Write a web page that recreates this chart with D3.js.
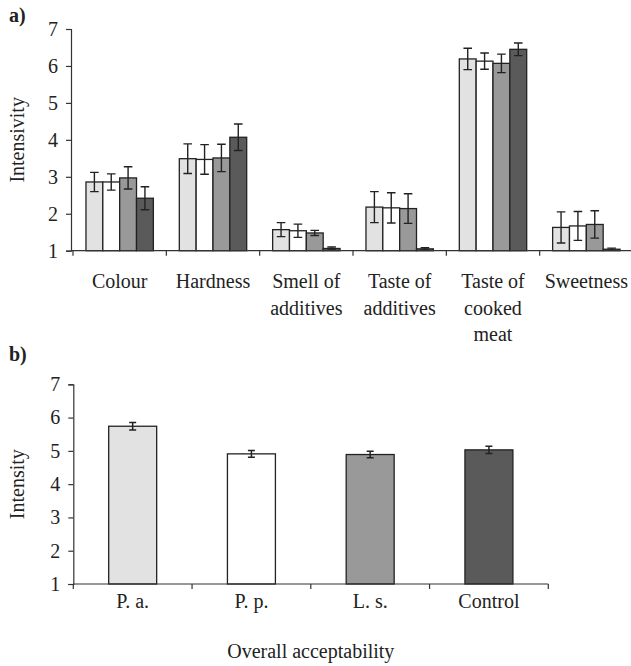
<!DOCTYPE html>
<html>
<head>
<meta charset="utf-8">
<script src="https://cdn.jsdelivr.net/npm/d3@7"></script>
<style>
  html, body { margin: 0; padding: 0; background: #fff; }
  svg { display: block; }
  text { font-family: "Liberation Serif", "Times New Roman", "DejaVu Serif", serif; fill: #222; }
</style>
</head>
<body>
<svg id="chart" width="631" height="666"></svg>
<script>
// ---------- Data ----------
const attributes = ["Colour", "Hardness", "Smell of additives", "Taste of additives", "Taste of cooked meat", "Sweetness"];
const attributeLabelLines = [["Colour"], ["Hardness"], ["Smell of", "additives"], ["Taste of", "additives"], ["Taste of", "cooked", "meat"], ["Sweetness"]];
const treatments = ["P. a.", "P. p.", "L. s.", "Control"];
// panel a means per treatment (order follows attributes)
const meansPa      = [2.86, 3.49, 1.57, 2.18, 6.19, 1.63];
const meansPp      = [2.86, 3.47, 1.54, 2.16, 6.13, 1.67];
const meansLs      = [2.97, 3.51, 1.48, 2.14, 6.07, 1.71];
const meansControl = [2.42, 4.07, 1.06, 1.05, 6.45, 1.04];
// panel a error (half-length)
const errPa      = [0.26, 0.40, 0.19, 0.42, 0.29, 0.42];
const errPp      = [0.22, 0.40, 0.18, 0.41, 0.22, 0.39];
const errLs      = [0.30, 0.37, 0.07, 0.40, 0.25, 0.37];
const errControl = [0.31, 0.36, 0.04, 0.03, 0.17, 0.03];
// panel b overall acceptability
const overallMeans = [5.74, 4.91, 4.89, 5.03];
const overallErr   = [0.11, 0.10, 0.10, 0.11];
const yTicks = [1, 2, 3, 4, 5, 6, 7];
const treatmentColors = ["#e2e2e2", "#ffffff", "#999999", "#5a5a5a"];

const meansByTreatment = [meansPa, meansPp, meansLs, meansControl];
const errByTreatment = [errPa, errPp, errLs, errControl];

const svg = d3.select("#chart");
const axisColor = "#333";
const barStroke = "#222";

function styleAxis(g) {
  g.attr("font-family", null);
  g.selectAll(".domain").attr("stroke", axisColor).attr("stroke-width", 1.2);
  g.selectAll(".tick line").attr("stroke", axisColor).attr("stroke-width", 1.2);
  g.selectAll(".tick text").attr("font-size", 20).attr("fill", "#222");
}

// ---------- Panel a ----------
(function () {
  const left = 71, right = 633, top = 29, bottom = 250.7;
  const y = d3.scaleLinear().domain([1, 7]).range([bottom, top]);
  const x0 = d3.scaleBand().domain(attributes).range([left + 2, right]).padding(0);
  const x1 = d3.scaleBand().domain(treatments)
    .range([x0.bandwidth() * 0.139, x0.bandwidth() * 0.861]).padding(0);

  const g = svg.append("g");

  const ya = g.append("g").attr("transform", `translate(${left},0)`)
    .call(d3.axisLeft(y).tickValues(yTicks).tickFormat(d3.format("d")).tickSize(5).tickPadding(8));
  styleAxis(ya);

  const groups = g.selectAll("g.grp").data(attributes).join("g")
    .attr("class", "grp")
    .attr("transform", d => `translate(${x0(d)},0)`);

  groups.each(function (attr, ai) {
    const gg = d3.select(this);
    treatments.forEach((t, ti) => {
      const v = meansByTreatment[ti][ai];
      const e = errByTreatment[ti][ai];
      const bx = x1(t);
      const bw = x1.bandwidth();
      gg.append("rect")
        .attr("x", bx).attr("y", y(v))
        .attr("width", bw).attr("height", y(1) - y(v))
        .attr("fill", treatmentColors[ti])
        .attr("stroke", barStroke).attr("stroke-width", 1.3);
      const cx = bx + bw / 2;
      const cap = 4.3;
      gg.append("path")
        .attr("d", `M${cx},${y(v + e)}V${y(Math.max(1, v - e))}` +
                   `M${cx - cap},${y(v + e)}H${cx + cap}` +
                   `M${cx - cap},${y(Math.max(1, v - e))}H${cx + cap}`)
        .attr("stroke", "#222").attr("stroke-width", 1.4).attr("fill", "none");
    });
  });

  const boundaries = attributes.map(a => x0(a)).concat([x0.range()[1]]);
  g.append("line").attr("x1", left).attr("x2", 631).attr("y1", bottom).attr("y2", bottom)
    .attr("stroke", axisColor).attr("stroke-width", 1.2);
  g.selectAll("line.bt").data(boundaries).join("line")
    .attr("class", "bt")
    .attr("x1", d => d).attr("x2", d => d)
    .attr("y1", bottom).attr("y2", bottom + 5)
    .attr("stroke", axisColor).attr("stroke-width", 1.2);

  attributes.forEach((a, ai) => {
    const t = g.append("text")
      .attr("x", x0(a) + x0.bandwidth() / 2)
      .attr("y", 288)
      .attr("text-anchor", "middle")
      .attr("font-size", 20);
    attributeLabelLines[ai].forEach((line, li) => {
      t.append("tspan").attr("x", x0(a) + x0.bandwidth() / 2)
        .attr("dy", li === 0 ? 0 : 26.5).text(line);
    });
  });

  g.append("text")
    .attr("transform", `translate(24,${(top + bottom) / 2}) rotate(-90)`)
    .attr("text-anchor", "middle").attr("font-size", 20)
    .text("Intensivity");

  g.append("text").attr("x", 9).attr("y", 22)
    .attr("font-size", 20).attr("font-weight", "bold").text("a)");
})();

// ---------- Panel b ----------
(function () {
  const left = 73.3, right = 548.3, top = 384.3, bottom = 584;
  const y = d3.scaleLinear().domain([1, 7]).range([bottom, top]);
  const x = d3.scaleBand().domain(treatments).range([left, right]).padding(0);
  const barW = x.bandwidth() * 0.404;

  const g = svg.append("g");

  const ya = g.append("g").attr("transform", `translate(${left},0)`)
    .call(d3.axisLeft(y).tickValues(yTicks).tickFormat(d3.format("d")).tickSize(5).tickPadding(8));
  styleAxis(ya);

  treatments.forEach((t, i) => {
    const v = overallMeans[i], e = overallErr[i];
    const bx = x(t) + (x.bandwidth() - barW) / 2;
    g.append("rect")
      .attr("x", bx).attr("y", y(v))
      .attr("width", barW).attr("height", y(1) - y(v))
      .attr("fill", treatmentColors[i])
      .attr("stroke", barStroke).attr("stroke-width", 1.3);
    const cx = bx + barW / 2, cap = 3.5;
    g.append("path")
      .attr("d", `M${cx},${y(v + e)}V${y(v - e)}M${cx - cap},${y(v + e)}H${cx + cap}M${cx - cap},${y(v - e)}H${cx + cap}`)
      .attr("stroke", "#222").attr("stroke-width", 1.5).attr("fill", "none");
  });

  const xa = g.append("g").attr("transform", `translate(0,${bottom})`)
    .call(d3.axisBottom(x).tickSize(0).tickPadding(10));
  styleAxis(xa);
  xa.select(".domain").attr("d", `M${left},0H${right}`);
  const boundaries = treatments.map(t => x(t)).concat([right]);
  g.selectAll("line.bt").data(boundaries).join("line")
    .attr("class", "bt")
    .attr("x1", d => d).attr("x2", d => d)
    .attr("y1", bottom).attr("y2", bottom + 5)
    .attr("stroke", axisColor).attr("stroke-width", 1.2);

  g.append("text")
    .attr("x", (left + right) / 2).attr("y", 658)
    .attr("text-anchor", "middle").attr("font-size", 20)
    .text("Overall acceptability");

  g.append("text")
    .attr("transform", `translate(24,${(top + bottom) / 2}) rotate(-90)`)
    .attr("text-anchor", "middle").attr("font-size", 20)
    .text("Intensity");

  g.append("text").attr("x", 9).attr("y", 361)
    .attr("font-size", 20).attr("font-weight", "bold").text("b)");
})();
</script>
</body>
</html>
